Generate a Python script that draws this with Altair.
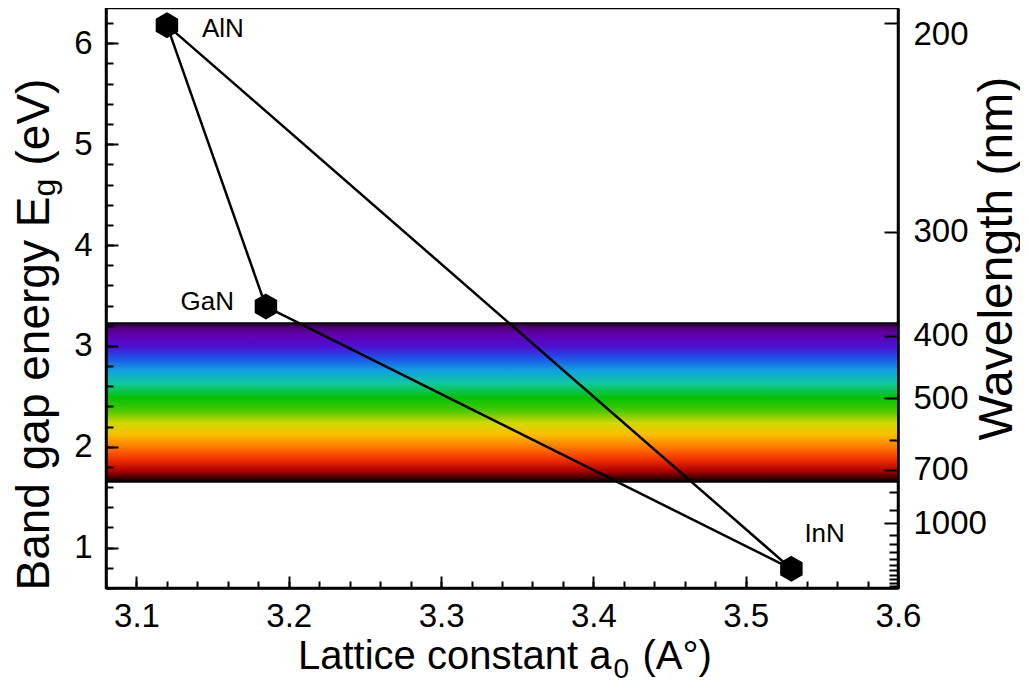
import altair as alt
import pandas as pd

# ---------------- data ----------------
materials = ["AlN", "GaN", "InN"]
lattice_a = [3.120, 3.185, 3.530]      # lattice constant a0 (Angstrom)
band_gap = [6.18, 3.39, 0.79]          # band gap energy (eV)

edges_from = ["AlN", "GaN", "AlN"]
edges_to = ["GaN", "InN", "InN"]

band_top_eV = 3.227                    # visible-spectrum band limits (eV)
band_bottom_eV = 1.651

x_domain = [3.08, 3.60]
y_domain = [0.60, 6.35]

x_ticks_major = [3.1, 3.2, 3.3, 3.4, 3.5, 3.6]
x_ticks_minor = [3.08, 3.10, 3.12, 3.14, 3.16, 3.18, 3.20, 3.22, 3.24, 3.26,
                 3.28, 3.30, 3.32, 3.34, 3.36, 3.38, 3.40, 3.42, 3.44, 3.46,
                 3.48, 3.50, 3.52, 3.54, 3.56, 3.58, 3.60]
y_ticks_major = [1, 2, 3, 4, 5, 6]
y_ticks_minor = [0.6, 0.8, 1.0, 1.2, 1.4, 1.6, 1.8, 2.0, 2.2, 2.4, 2.6, 2.8,
                 3.0, 3.2, 3.4, 3.6, 3.8, 4.0, 4.2, 4.4, 4.6, 4.8, 5.0, 5.2,
                 5.4, 5.6, 5.8, 6.0, 6.2]
wl_major = [200, 300, 400, 500, 700, 1000]                 # nm
wl_minor = [600, 800, 900, 1100, 1200, 1300, 1400, 1500, 1600, 1700,
            1800, 1900, 2000]                              # nm
HC = 1240.0  # eV*nm

spectrum_offsets = [0.0, 0.03, 0.08, 0.15, 0.22, 0.30, 0.38, 0.47, 0.55,
                    0.63, 0.70, 0.78, 0.86, 0.93, 0.98, 1.0]
spectrum_colors = ["#1a0020", "#50007a", "#6200b4", "#4a12d2", "#2050e8",
                   "#10a0e0", "#10c8a0", "#05c005", "#48c800", "#d2d800",
                   "#f8c000", "#ff7800", "#f03000", "#b00000", "#300000",
                   "#000000"]

# ---------------- tables ----------------
pts = pd.DataFrame({"material": materials, "a0": lattice_a, "eg": band_gap})
lookup = {m: (a, e) for m, a, e in zip(materials, lattice_a, band_gap)}
seg_rows = []
for i, (f, t) in enumerate(zip(edges_from, edges_to)):
    for j, m in enumerate((f, t)):
        seg_rows.append({"seg": i, "ord": j, "a0": lookup[m][0], "eg": lookup[m][1]})
segs = pd.DataFrame(seg_rows)
band = pd.DataFrame({"x0": [x_domain[0]], "x1": [x_domain[1]],
                     "e_hi": [band_top_eV], "e_lo": [band_bottom_eV]})

# ---------------- layout / style ----------------
W, H = 792, 580
FONT = "Liberation Sans"
xs = alt.Scale(domain=x_domain, nice=False, zero=False)
ys = alt.Scale(domain=y_domain, nice=False, zero=False)

TICK = dict(labels=False, domain=False, grid=False, tickColor="black",
            tickWidth=2, zindex=1)

x_label_axis = alt.Axis(orient="bottom", values=x_ticks_major, format=".1f",
                        labelFontSize=33, labelPadding=12, tickSize=0, ticks=False,
                        domain=True, domainWidth=2.5, domainColor="black", zindex=1,
                        grid=False, labelFlush=False, labelOverlap=False,
                        title="Lattice constant a", titleFontSize=40,
                        titleX=505, titleY=80, titleAlign="right",
                        titleBaseline="alphabetic")
x_major_axis = alt.Axis(orient="bottom", values=x_ticks_major, tickSize=12,
                        offset=-12, title="0", titleFontSize=28, titleX=507,
                        titleY=101, titleAlign="left", titleBaseline="alphabetic",
                        **TICK)
x_minor_axis = alt.Axis(orient="bottom", values=x_ticks_minor, tickSize=7,
                        offset=-7, title="(A°)", titleFontSize=40, titleX=536,
                        titleY=87, titleAlign="left", titleBaseline="alphabetic",
                        **TICK)

y_label_axis = alt.Axis(orient="left", values=y_ticks_major, format="d",
                        labelFontSize=33, labelPadding=14, tickSize=0, ticks=False,
                        domain=True, domainWidth=2.5, domainColor="black", zindex=1,
                        grid=False, labelOverlap=False,
                        title="Band gap energy E", titleFontSize=46, titleAngle=270,
                        titleX=-58, titleY=582, titleAlign="left",
                        titleBaseline="alphabetic")
y_major_axis = alt.Axis(orient="left", values=y_ticks_major, tickSize=12,
                        offset=-12, title="g", titleFontSize=32, titleAngle=270,
                        titleX=-64, titleY=188, titleAlign="left",
                        titleBaseline="alphabetic", **TICK)
y_minor_axis = alt.Axis(orient="left", values=y_ticks_minor, tickSize=7,
                        offset=-7, title="(eV)", titleFontSize=46, titleAngle=270,
                        titleX=-65, titleY=157, titleAlign="left",
                        titleBaseline="alphabetic", **TICK)

r_label_axis = alt.Axis(orient="right", values=[HC / w for w in wl_major],
                        labelExpr="format(1240 / datum.value, '.0f')",
                        labelFontSize=33, labelPadding=15, tickSize=0, ticks=False,
                        labelOffset={"condition": {"test": "datum.value > 6",
                                                   "value": 11},
                                     "value": 0},
                        domain=True, domainWidth=2.5, domainColor="black", zindex=1,
                        grid=False, labelOverlap=False,
                        title="Wavelength (nm)", titleFontSize=48, titleAngle=270,
                        titleX=113, titleY=432, titleAlign="left",
                        titleBaseline="alphabetic")
r_major_axis = alt.Axis(orient="right", values=[HC / w for w in wl_major],
                        tickSize=14, offset=-14, title=None, **TICK)
r_minor_axis = alt.Axis(orient="right", values=[HC / w for w in wl_minor],
                        tickSize=9, offset=-9, title=None, **TICK)

gradient = {"gradient": "linear", "x1": 0, "x2": 0, "y1": 0, "y2": 1,
            "stops": [{"offset": o, "color": c}
                      for o, c in zip(spectrum_offsets, spectrum_colors)]}

band_layer = alt.Chart(band).mark_rect(fill=gradient, stroke="black",
                                       strokeWidth=1.5).encode(
    x=alt.X("x0:Q", scale=xs, axis=x_label_axis),
    x2="x1:Q",
    y=alt.Y("e_hi:Q", scale=ys, axis=y_label_axis),
    y2="e_lo:Q",
)

line_layer = alt.Chart(segs).mark_line(color="black", strokeWidth=2.5).encode(
    x=alt.X("a0:Q", scale=xs, axis=x_major_axis),
    y=alt.Y("eg:Q", scale=ys, axis=y_major_axis),
    detail="seg:N",
    order="ord:Q",
)

HEX = "M0,-1L0.866,-0.5L0.866,0.5L0,1L-0.866,0.5L-0.866,-0.5Z"
point_layer = alt.Chart(pts).mark_point(shape=HEX, filled=True, fill="black",
                                        stroke="black", size=560, opacity=1).encode(
    x=alt.X("a0:Q", scale=xs, axis=x_minor_axis),
    y=alt.Y("eg:Q", scale=ys, axis=y_minor_axis),
)


def label(name, align, dx, dy, yaxis):
    return alt.Chart(pts).transform_filter(
        alt.datum.material == name
    ).mark_text(align=align, baseline="middle", dx=dx, dy=dy, font=FONT,
                fontSize=26, color="black").encode(
        x=alt.X("a0:Q", scale=xs, axis=None),
        y=alt.Y("eg:Q", scale=ys, axis=yaxis),
        text="material:N",
    )


t_aln = label("AlN", "left", 35, 4, r_label_axis)
t_gan = label("GaN", "right", -32, -5, r_major_axis)
t_inn = label("InN", "left", 13, -35, r_minor_axis)

chart = alt.layer(band_layer, line_layer, point_layer, t_aln, t_gan, t_inn).resolve_axis(
    x="independent", y="independent"
).properties(
    width=W, height=H,
    padding={"left": 98, "top": 0, "right": 122, "bottom": 97},
    autosize=alt.AutoSizeParams(type="none"),
    background="white",
).configure_view(
    stroke="black", strokeWidth=2.5
).configure_axis(
    labelFont=FONT, titleFont=FONT, labelColor="black", titleColor="black",
    titleFontWeight="normal", grid=False
)

chart.save("out.html", embed_options={"renderer": "svg", "actions": False})
